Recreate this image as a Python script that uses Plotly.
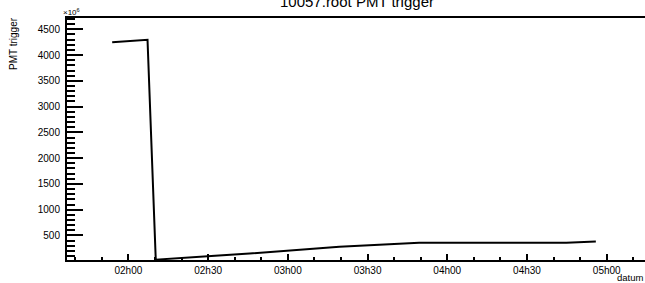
import plotly.graph_objects as go

times = ["2000-01-01 01:53:54", "2000-01-01 02:07:12", "2000-01-01 02:10:18",
         "2000-01-01 02:45:36", "2000-01-01 03:19:24", "2000-01-01 03:38:54",
         "2000-01-01 03:49:24", "2000-01-01 04:13:30", "2000-01-01 04:44:48",
         "2000-01-01 04:55:54"]
pmt_trigger = [4247, 4298, 30, 150, 280, 339, 358, 358, 358, 383]

x_range = ["2000-01-01 01:36:54", "2000-01-01 05:14:24"]
y_range = [23, 4720]

title_text = "10057.root PMT trigger"
y_title = "PMT trigger"
x_title = "datum"

FONT = "Liberation Sans, Arial, sans-serif"

fig = go.Figure()
fig.add_trace(go.Scatter(x=times, y=pmt_trigger, mode="lines",
                         line=dict(color="black", width=2), showlegend=False))

fig.update_layout(
    width=645, height=283,
    margin=dict(l=67, r=0, t=18, b=23, autoexpand=False),
    paper_bgcolor="white", plot_bgcolor="white",
    font=dict(family=FONT, color="black", size=10),
    xaxis=dict(type="date", range=x_range, tickformat="%Hh%M",
               tick0="2000-01-01 00:00:00", dtick=1800000,
               ticks="inside", ticklen=6, tickwidth=2, tickcolor="black",
               minor=dict(dtick=600000, ticks="inside", ticklen=3, tickwidth=2, tickcolor="black"),
               showline=True, linecolor="black", linewidth=2, mirror=True,
               showgrid=False, zeroline=False, tickfont=dict(size=10),
               ticklabelstandoff=0, automargin=False),
    yaxis=dict(range=y_range, tick0=0, dtick=500,
               ticks="inside", ticklen=16, tickwidth=2, tickcolor="black",
               minor=dict(dtick=100, ticks="inside", ticklen=8, tickwidth=2, tickcolor="black"),
               showline=True, linecolor="black", linewidth=2,
               showgrid=False, zeroline=False, tickfont=dict(size=10),
               ticklabelstandoff=3, automargin=False),
)

fig.add_annotation(text=title_text, xref="paper", yref="paper",
                   x=(357 - 67) / 578, y=1 + (18 - 11) / 242, xanchor="center", yanchor="bottom",
                   showarrow=False, font=dict(size=15), borderpad=0)
fig.add_annotation(text=y_title, xref="paper", yref="paper", textangle=-90,
                   x=(14 - 67) / 578, y=(260 - 44) / 242, xanchor="center", yanchor="middle",
                   showarrow=False, font=dict(size=10), borderpad=0)
fig.add_annotation(text=x_title, xref="paper", yref="paper",
                   x=(644 - 67) / 578, y=(260 - 277) / 242, xanchor="right", yanchor="middle",
                   showarrow=False, font=dict(size=9.5), borderpad=0)
fig.add_annotation(text="×10<sup>6</sup>", xref="paper", yref="paper",
                   x=(62 - 67) / 578, y=1.0, xanchor="left", yanchor="bottom",
                   showarrow=False, font=dict(size=8), borderpad=0)

fig.write_html("out.html", config={"displayModeBar": False},
               post_script="document.body.style.margin='0';document.body.style.overflow='hidden';")
